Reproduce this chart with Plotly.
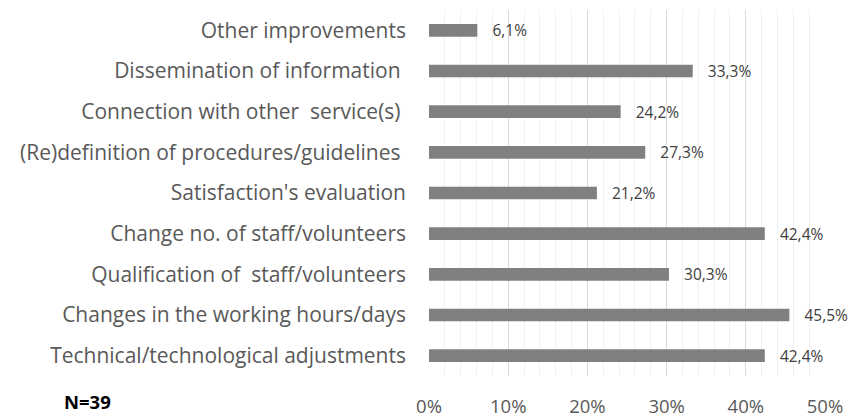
import plotly.graph_objects as go

categories = [
    "Other improvements",
    "Dissemination of information\u00a0",
    "Connection with other  service(s)\u00a0",
    "(Re)definition of procedures/guidelines\u00a0",
    "Satisfaction's evaluation",
    "Change no. of staff/volunteers",
    "Qualification of  staff/volunteers",
    "Changes in the working hours/days",
    "Technical/technological adjustments",
]
values = [6.1, 33.3, 24.2, 27.3, 21.2, 42.4, 30.3, 45.5, 42.4]
tick_vals = [0, 10, 20, 30, 40, 50]
tick_text = ["0%", "10%", "20%", "30%", "40%", "50%"]
note = "N=39"

labels = ["\u00a0\u00a0\u00a0" + f"{v:.1f}%".replace(".", ",") for v in values]

font_family = "'Open Sans', sans-serif"

fig = go.Figure(
    go.Bar(
        x=values,
        y=categories,
        orientation="h",
        marker=dict(color="#808080", line=dict(width=0)),
        text=labels,
        textposition="outside",
        constraintext="none",
        textfont=dict(size=15.5, color="#404040", family=font_family),
        cliponaxis=False,
        hoverinfo="skip",
    )
)

fig.update_layout(
    width=858,
    height=416,
    margin=dict(l=429, r=33, t=10, b=40),
    paper_bgcolor="white",
    plot_bgcolor="white",
    bargap=0.69,
    showlegend=False,
    font=dict(family=font_family, color="#595959", size=19),
    xaxis=dict(
        range=[0, 50],
        tickvals=tick_vals,
        ticktext=tick_text,
        showgrid=True,
        gridcolor="#d9d9d9",
        gridwidth=1,
        zeroline=False,
        showline=False,
        ticks="",
        ticklabelstandoff=17,
        tickfont=dict(size=18.5, color="#595959"),
        minor=dict(dtick=2, showgrid=True, gridcolor="#f0f0f0", gridwidth=1),
        automargin=False,
    ),
    yaxis=dict(
        autorange="reversed",
        showgrid=False,
        zeroline=False,
        showline=False,
        ticks="",
        ticklabelstandoff=22,
        tickfont=dict(size=21, color="#595959"),
        automargin=False,
    ),
    annotations=[
        dict(
            text=f"<b>{note}</b>",
            xref="paper",
            yref="paper",
            x=-0.924,
            y=-0.07,
            xanchor="left",
            yanchor="middle",
            showarrow=False,
            borderpad=0,
            font=dict(size=18.5, color="#000000", family=font_family),
        )
    ],
)

fig.write_html(
    "out.html",
    config={"displayModeBar": False},
    post_script="document.body.style.margin='0';",
)
